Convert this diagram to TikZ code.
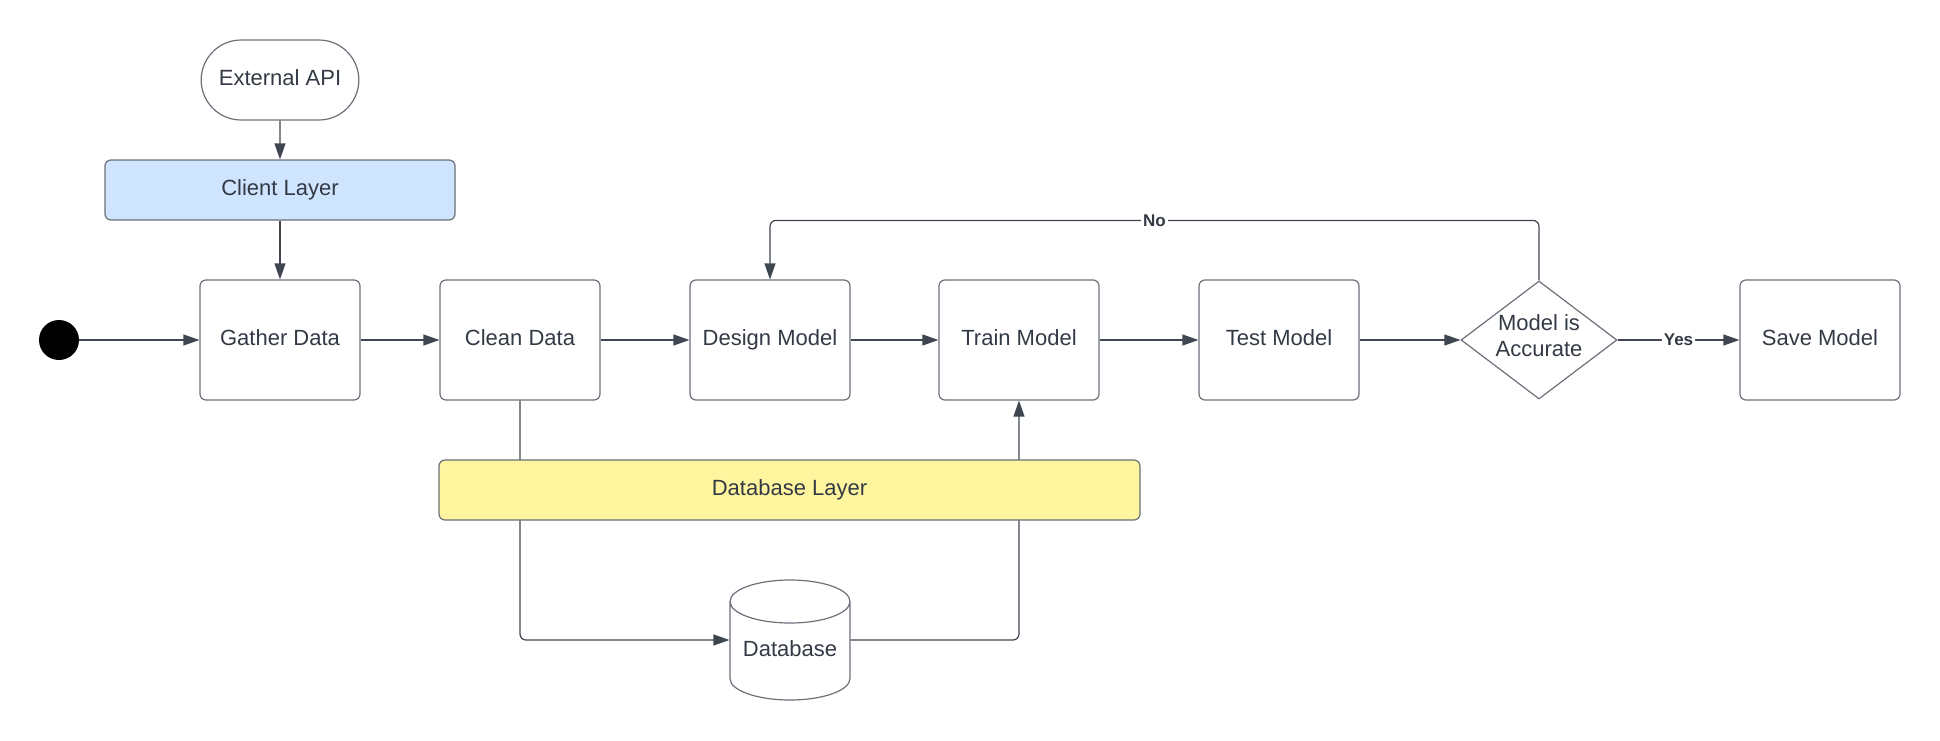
\documentclass[tikz,border=0pt]{standalone}
\usepackage{fontspec}
\setmainfont{Liberation Sans}
\usetikzlibrary{arrows.meta,shapes.geometric,shapes.misc}

\definecolor{inkgray}{HTML}{333A45}
\definecolor{linegray}{HTML}{3F4650}
\definecolor{bordergray}{HTML}{6B7079}
\definecolor{clientblue}{HTML}{CFE4FF}
\definecolor{dbyellow}{HTML}{FFF59F}

\newcommand\boxwidth{80pt}
\newcommand\boxheight{60pt}
\newcommand\rowy{340}

\tikzset{
    basefont/.style={text=inkgray,font=\fontsize{11}{13}\selectfont},
    oneline/.style={text height=8pt,text depth=2.3pt},
    stepbox/.style={basefont,oneline,draw=bordergray,line width=0.6pt,rounded corners=3pt,minimum width=\boxwidth,minimum height=\boxheight},
    layerbox/.style={basefont,oneline,draw=bordergray,line width=0.6pt,rounded corners=3pt,minimum height=30pt},
    terminal/.style={basefont,oneline,rounded rectangle,draw=bordergray,line width=0.6pt,minimum width=85.5pt,minimum height=40pt},
    decision/.style={basefont,diamond,draw=bordergray,line width=0.6pt,aspect=1.32,inner sep=0pt,inner xsep=-3pt,text depth=4pt,minimum width=78pt,minimum height=59pt,align=center},
    store/.style={basefont,cylinder,shape border rotate=90,aspect=0.4,draw=bordergray,line width=0.6pt,text height=8pt,text depth=7pt,minimum width=60pt,minimum height=60pt},
    startdot/.style={circle,fill=black,minimum size=20pt,inner sep=0pt},
    flow/.style={draw=linegray,line width=0.6pt,rounded corners=3pt,-{Triangle[length=8pt,width=5.5pt]}},
    answer/.style={font=\bfseries\fontsize{8.5}{10}\selectfont,text=inkgray,fill=white,inner sep=1pt}
}

\begin{document}
\begin{tikzpicture}[x=0.5pt,y=-0.5pt]
    \useasboundingbox (0,0) rectangle (1940,740);

    \node[terminal] (api) at (280,80) {External API};
    \node[layerbox,fill=clientblue,minimum width=175pt] (client) at (280,190) {Client Layer};

    \node[startdot] (start) at (59,\rowy) {};
    \node[stepbox] (gather) at (280,\rowy) {Gather Data};
    \node[stepbox] (clean) at (520,\rowy) {Clean Data};
    \node[stepbox] (design) at (770,\rowy) {Design Model};
    \node[stepbox] (train) at (1019,\rowy) {Train Model};
    \node[stepbox] (test) at (1279,\rowy) {Test Model};
    \node[decision] (accurate) at (1539,\rowy) {Model is\\Accurate};
    \node[stepbox] (save) at (1820,\rowy) {Save Model};

    \node[store,anchor=shape center] (db) at (790,640) {Database};

    \draw[flow] (api) -- (client);
    \draw[flow] (client) -- (gather);
    \draw[flow] (start) -- (gather);
    \draw[flow] (gather) -- (clean);
    \draw[flow] (clean) -- (design);
    \draw[flow] (design) -- (train);
    \draw[flow] (train) -- (test);
    \draw[flow] (test) -- (accurate);
    \draw[flow] (accurate) -- node[answer] {Yes} (save);
    \draw[flow] (accurate.north) -- ++(0,-60) -| node[answer,pos=0.25] {No} (design.north);
    \draw[flow] (clean.south) |- (db.west |- db.shape center);
    \draw[flow] (db.east |- db.shape center) -| (train.south);

    \node[layerbox,fill=dbyellow,minimum width=350.5pt] (dblayer) at (789.5,490) {Database Layer};
\end{tikzpicture}
\end{document}
